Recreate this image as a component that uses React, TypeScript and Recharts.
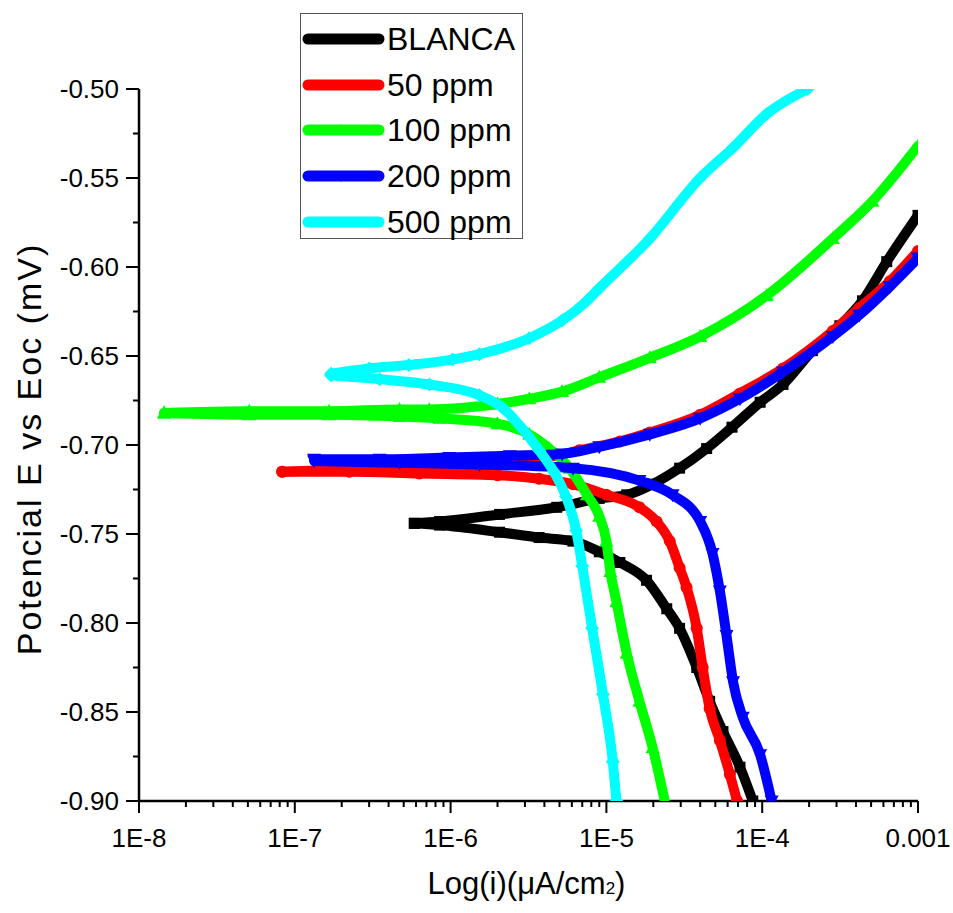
import { ScatterChart, Scatter, XAxis, YAxis, Legend } from 'recharts'

const FONT = '"Liberation Sans", Arial, sans-serif'

// [current density, potential] pairs; each branch starts at Ecorr
const blancaAnodic = [
  [5.85e-7, -0.744], [8.5e-7, -0.743], [2.06e-6, -0.739], [4.8e-6, -0.735], [9.0e-6, -0.73],
  [1.35e-5, -0.728], [1.98e-5, -0.722], [2.95e-5, -0.713], [4.4e-5, -0.702], [6.4e-5, -0.69],
  [9.7e-5, -0.676], [1.36e-4, -0.666], [2.1e-4, -0.647], [3.15e-4, -0.633], [4.4e-4, -0.619],
  [6.3e-4, -0.597], [1.0e-3, -0.571],
]
const blancaCathodic = [
  [5.85e-7, -0.744], [8.5e-7, -0.745], [2.06e-6, -0.749], [3.7e-6, -0.752], [6.1e-6, -0.754],
  [9.0e-6, -0.76], [1.22e-5, -0.766], [1.81e-5, -0.776], [2.44e-5, -0.792], [2.95e-5, -0.803],
  [3.8e-5, -0.825], [4.6e-5, -0.844], [5.6e-5, -0.861], [7.2e-5, -0.881], [8.7e-5, -0.9],
]

const ppm50Anodic = [
  [8.3e-8, -0.715], [1.66e-7, -0.714], [4.7e-7, -0.713], [9.8e-7, -0.712], [2.06e-6, -0.711],
  [3.7e-6, -0.708], [6.7e-6, -0.703], [1.22e-5, -0.698], [1.9e-5, -0.693], [4.0e-5, -0.683],
  [7.2e-5, -0.671], [1.36e-4, -0.657], [2.84e-4, -0.636], [4.2e-4, -0.623], [6.6e-4, -0.608],
  [1.0e-3, -0.591],
]
const ppm50Cathodic = [
  [8.3e-8, -0.715], [2.24e-7, -0.715], [6.3e-7, -0.716], [2.0e-6, -0.717], [3.7e-6, -0.719],
  [6.1e-6, -0.722], [1.0e-5, -0.728], [1.63e-5, -0.735], [2.1e-5, -0.743], [2.55e-5, -0.754],
  [2.95e-5, -0.769], [3.27e-5, -0.78], [3.8e-5, -0.803], [4.15e-5, -0.825], [4.6e-5, -0.848],
  [5.35e-5, -0.866], [6.2e-5, -0.885], [6.9e-5, -0.9],
]

const ppm100Anodic = [
  [1.45e-8, -0.682], [5.1e-8, -0.681], [1.66e-7, -0.681], [4.7e-7, -0.68], [7.3e-7, -0.68],
  [2.0e-6, -0.677], [3.2e-6, -0.674], [5.2e-6, -0.67], [9.0e-6, -0.662], [1.9e-5, -0.651],
  [4.0e-5, -0.639], [1.07e-4, -0.616], [2.84e-4, -0.584], [5.1e-4, -0.563], [1.0e-3, -0.532],
]
const ppm100Cathodic = [
  [1.45e-8, -0.682], [5.1e-8, -0.683], [1.66e-7, -0.683], [4.7e-7, -0.684], [8.5e-7, -0.685],
  [2.0e-6, -0.688], [3.2e-6, -0.694], [4.3e-6, -0.702], [5.8e-6, -0.713], [7.5e-6, -0.728],
  [9.0e-6, -0.74], [1.0e-5, -0.754], [1.06e-5, -0.771], [1.16e-5, -0.788], [1.35e-5, -0.817],
  [1.63e-5, -0.844], [1.98e-5, -0.87], [2.37e-5, -0.9],
]

const ppm200Anodic = [
  [1.33e-7, -0.708], [3.5e-7, -0.708], [9.8e-7, -0.707], [2.4e-6, -0.706], [5.2e-6, -0.705],
  [9.0e-6, -0.701], [1.9e-5, -0.694], [4.0e-5, -0.685], [7.2e-5, -0.674], [1.36e-4, -0.659],
  [2.84e-4, -0.639], [4.2e-4, -0.627], [6.6e-4, -0.611], [1.0e-3, -0.595],
]
const ppm200Cathodic = [
  [1.33e-7, -0.709], [4.7e-7, -0.71], [1.53e-6, -0.711], [6.1e-6, -0.713], [1.63e-5, -0.72],
  [2.66e-5, -0.728], [4.0e-5, -0.743], [4.8e-5, -0.761], [5.35e-5, -0.782], [5.9e-5, -0.807],
  [6.5e-5, -0.833], [7.5e-5, -0.853], [9.7e-5, -0.874], [1.15e-4, -0.9],
]

const ppm500Anodic = [
  [1.71e-7, -0.66], [3.0e-7, -0.657], [5.4e-7, -0.655], [1.03e-6, -0.652], [1.53e-6, -0.649],
  [3.2e-6, -0.64], [5.2e-6, -0.63], [7.5e-6, -0.619], [9.0e-6, -0.612], [1.9e-5, -0.584],
  [4.0e-5, -0.55], [6.5e-5, -0.533], [1.07e-4, -0.514], [1.96e-4, -0.5],
]
const ppm500Cathodic = [
  [1.71e-7, -0.661], [3.5e-7, -0.663], [7.3e-7, -0.666], [1.53e-6, -0.672], [2.15e-6, -0.679],
  [2.9e-6, -0.691], [3.7e-6, -0.703], [4.6e-6, -0.715], [5.5e-6, -0.729], [6.4e-6, -0.748],
  [7.0e-6, -0.768], [8.1e-6, -0.803], [9.5e-6, -0.84], [1.1e-5, -0.878], [1.16e-5, -0.9],
]

const xMajorTicks = [1e-8, 1e-7, 1e-6, 1e-5, 1e-4, 1e-3]
const xMajorLabels = ['1E-8', '1E-7', '1E-6', '1E-5', '1E-4', '0.001']
const yTicks = [
  -0.9, -0.875, -0.85, -0.825, -0.8, -0.775, -0.75, -0.725, -0.7,
  -0.675, -0.65, -0.625, -0.6, -0.575, -0.55, -0.525, -0.5,
]

// log minor ticks 2..9 inside each decade
const xTicks: number[] = []
xMajorTicks.forEach((d, k) => {
  xTicks.push(d)
  if (k < xMajorTicks.length - 1) for (let m = 2; m <= 9; m++) xTicks.push(m * d)
})

const pts = (rows: number[][]) => rows.map(([i, E]) => ({ i, E }))

const series = [
  { name: 'BLANCA', color: '#000000', kind: 'square', branches: [blancaCathodic, blancaAnodic] },
  { name: '50 ppm', color: '#ff0000', kind: 'circle', branches: [ppm50Cathodic, ppm50Anodic] },
  { name: '100 ppm', color: '#00ff00', kind: 'up', branches: [ppm100Cathodic, ppm100Anodic] },
  { name: '200 ppm', color: '#0000ff', kind: 'down', branches: [ppm200Cathodic, ppm200Anodic] },
  { name: '500 ppm', color: '#00ffff', kind: 'diamond', branches: [ppm500Cathodic, ppm500Anodic] },
]

function Marker({ kind, cx, cy, color, s = 5.5 }: any) {
  if (cx == null || cy == null) return null
  switch (kind) {
    case 'square':
      return <rect x={cx - s} y={cy - s} width={2 * s} height={2 * s} fill={color} />
    case 'circle':
      return <circle cx={cx} cy={cy} r={s + 0.5} fill={color} />
    case 'up':
      return <polygon points={`${cx},${cy - s - 2} ${cx + s + 1.5},${cy + s} ${cx - s - 1.5},${cy + s}`} fill={color} />
    case 'down':
      return <polygon points={`${cx},${cy + s + 2} ${cx + s + 1.5},${cy - s} ${cx - s - 1.5},${cy - s}`} fill={color} />
    default:
      return <polygon points={`${cx},${cy - s - 1.5} ${cx + s + 1.5},${cy} ${cx},${cy + s + 1.5} ${cx - s - 1.5},${cy}`} fill={color} />
  }
}

function XTick({ x, y, payload }: any) {
  const v = payload.value
  const k = xMajorTicks.findIndex((d) => Math.abs(Math.log10(v) - Math.log10(d)) < 1e-6)
  const major = k >= 0
  return (
    <g>
      <line x1={x} x2={x} y1={y} y2={y + (major ? 12 : 6)} stroke="#000" strokeWidth={2} />
      {major && (
        <text x={x} y={y + 46} textAnchor="middle" fontSize={26} fontFamily={FONT} fill="#000">
          {xMajorLabels[k]}
        </text>
      )}
    </g>
  )
}

function YTick({ x, y, payload }: any) {
  const v = payload.value
  const major = Math.abs(v * 20 - Math.round(v * 20)) < 1e-6
  return (
    <g>
      <line x1={x - (major ? 13 : 6)} x2={x} y1={y} y2={y} stroke="#000" strokeWidth={2} />
      {major && (
        <text x={x - 20} y={y + 9} textAnchor="end" fontSize={26} fontFamily={FONT} fill="#000">
          {v.toFixed(2)}
        </text>
      )}
    </g>
  )
}

function renderLegend() {
  return (
    <div
      style={{
        width: 223,
        height: 226,
        border: '1px solid #555',
        boxSizing: 'border-box',
        background: '#fff',
        position: 'relative',
        fontFamily: FONT,
      }}
    >
      {series.map((s, k) => (
        <div
          key={s.name}
          style={{ position: 'absolute', left: 0, top: 25 + k * 45.7 - 20, height: 40, display: 'flex', alignItems: 'center' }}
        >
          <svg width={86} height={40} style={{ display: 'block' }}>
            <line x1={7} x2={78} y1={20} y2={20} stroke={s.color} strokeWidth={11} strokeLinecap="round" />
            <Marker kind={s.kind} cx={40} cy={20} color={s.color} s={4} />
          </svg>
          <span style={{ fontSize: 32, lineHeight: '40px', color: '#000', whiteSpace: 'nowrap' }}>{s.name}</span>
        </div>
      ))}
    </div>
  )
}

export default function App() {
  return (
    <div style={{ position: 'absolute', left: 0, top: 0, background: '#fff' }}>
      <ScatterChart width={953} height={913} margin={{ top: 89, right: 35, bottom: 0, left: 0 }}>
        <XAxis
          type="number"
          dataKey="i"
          scale="log"
          domain={[1e-8, 1e-3]}
          allowDataOverflow
          ticks={xTicks}
          interval={0}
          height={112}
          tickSize={0}
          tickMargin={0}
          tick={<XTick />}
          axisLine={{ stroke: '#000', strokeWidth: 2.5 }}
          label={{
            content: ({ viewBox }: any) => (
              <text
                x={viewBox.x + viewBox.width / 2 - 2}
                y={viewBox.y + 93}
                textAnchor="middle"
                fontSize={31}
                fontFamily={FONT}
                fill="#000"
              >
                Log(i)(μA/cm<tspan fontSize={17}>2</tspan>)
              </text>
            ),
          }}
        />
        <YAxis
          type="number"
          dataKey="E"
          domain={[-0.9, -0.5]}
          allowDataOverflow
          ticks={yTicks}
          interval={0}
          width={139}
          tickSize={0}
          tickMargin={0}
          tick={<YTick />}
          axisLine={{ stroke: '#000', strokeWidth: 2.5 }}
          label={{
            content: ({ viewBox }: any) => {
              const cx = viewBox.x + 29
              const cy = viewBox.y + viewBox.height / 2 + 4
              return (
                <text
                  x={cx}
                  y={cy}
                  transform={`rotate(-90 ${cx} ${cy})`}
                  textAnchor="middle"
                  dominantBaseline="central"
                  fontSize={34}
                  letterSpacing={2}
                  fontFamily={FONT}
                  fill="#000"
                >
                  Potencial E vs Eoc (mV)
                </text>
              )
            },
          }}
        />
        <Legend
          layout="vertical"
          align="center"
          verticalAlign="middle"
          content={renderLegend}
          wrapperStyle={{ left: 300, top: 13, width: 223 }}
        />
        {series.flatMap((s) =>
          s.branches.map((b, k) => (
            <Scatter
              key={`${s.name}-${k}`}
              name={s.name}
              data={pts(b)}
              fill={s.color}
              line={{ stroke: s.color, strokeWidth: 10, strokeLinejoin: 'round', strokeLinecap: 'round' }}
              lineType="joint"
              lineJointType="monotoneX"
              shape={(p: any) => <Marker kind={s.kind} cx={p.cx} cy={p.cy} color={s.color} />}
              isAnimationActive={false}
            />
          ))
        )}
      </ScatterChart>
    </div>
  )
}
